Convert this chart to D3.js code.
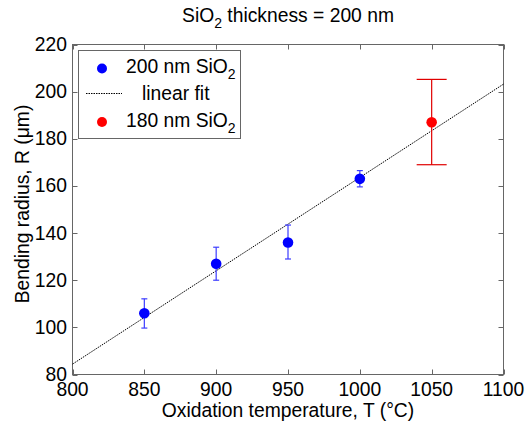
<!DOCTYPE html>
<html>
<head>
<meta charset="utf-8">
<script src="https://cdn.jsdelivr.net/npm/d3@7"></script>
<style>
  html, body { margin: 0; padding: 0; background: #fff; }
  svg { display: block; font-family: "Liberation Sans", Arial, Helvetica, sans-serif; }
</style>
</head>
<body>
<svg id="chart" width="525" height="423"></svg>
<script>
// Oxidation temperature (°C) vs bending radius (µm)
const temps200 = [850, 900, 950, 1000];
const radius200 = [106, 127, 136, 163];
const errLow200 = [99.7, 120, 129, 159.6];
const errHigh200 = [112.1, 134, 143.4, 166.5];

const temps180 = [1050];
const radius180 = [187];
const errLow180 = [169];
const errHigh180 = [205.2];

// Linear fit end points
const fitT = [800, 1100];
const fitR = [84.4, 203.2];

const xTicks = [800, 850, 900, 950, 1000, 1050, 1100];
const yTicks = [80, 100, 120, 140, 160, 180, 200, 220];

const svg = d3.select("#chart");
const plotL = 72.5, plotR = 503.5, plotT = 44.5, plotB = 374.5;
const x = d3.scaleLinear().domain([800, 1100]).range([plotL, plotR]);
const y = d3.scaleLinear().domain([80, 220]).range([plotB, plotT]);
const fs = 19.3;
const subFs = 14;
const axisColor = "#666";

// Frame
svg.append("rect")
  .attr("x", plotL).attr("y", plotT)
  .attr("width", plotR - plotL).attr("height", plotB - plotT)
  .attr("fill", "#fff").attr("stroke", axisColor).attr("stroke-width", 1);

// Inward ticks on all four sides
const tickLen = 5;
const tg = svg.append("g").attr("stroke", axisColor).attr("stroke-width", 1);
xTicks.forEach(t => {
  const px = Math.round(x(t)) + 0.5;
  tg.append("line").attr("x1", px).attr("x2", px).attr("y1", plotB).attr("y2", plotB - tickLen);
  tg.append("line").attr("x1", px).attr("x2", px).attr("y1", plotT).attr("y2", plotT + tickLen);
});
yTicks.forEach(t => {
  const py = Math.round(y(t)) + 0.5;
  tg.append("line").attr("y1", py).attr("y2", py).attr("x1", plotL).attr("x2", plotL + tickLen);
  tg.append("line").attr("y1", py).attr("y2", py).attr("x1", plotR).attr("x2", plotR - tickLen);
});

// Tick labels
svg.append("g").selectAll("text").data(xTicks).join("text")
  .attr("x", d => x(d)).attr("y", 396)
  .attr("text-anchor", "middle").attr("font-size", fs).attr("fill", "#000")
  .text(d => d);
svg.append("g").selectAll("text").data(yTicks).join("text")
  .attr("x", 67).attr("y", d => y(d) + 6.5)
  .attr("text-anchor", "end").attr("font-size", fs).attr("fill", "#000")
  .text(d => d);

// Axis titles
svg.append("text")
  .attr("x", (plotL + plotR) / 2).attr("y", 417)
  .attr("text-anchor", "middle").attr("font-size", fs)
  .text("Oxidation temperature, T (°C)");
svg.append("text")
  .attr("transform", `translate(29, 204) rotate(-90)`)
  .attr("text-anchor", "middle").attr("font-size", fs)
  .text("Bending radius, R (\u03bcm)");

// Title with subscript
const title = svg.append("text")
  .attr("x", (plotL + plotR) / 2).attr("y", 22)
  .attr("text-anchor", "middle").attr("font-size", fs);
title.append("tspan").text("SiO");
title.append("tspan").attr("font-size", subFs).attr("dy", 6).text("2");
title.append("tspan").attr("dy", -6).text(" thickness = 200 nm");

// Linear fit
const line = d3.line().x(d => x(d[0])).y(d => y(d[1]));
svg.append("path")
  .datum(d3.zip(fitT, fitR))
  .attr("d", line)
  .attr("fill", "none").attr("stroke", "#000").attr("stroke-width", 1)
  .attr("stroke-dasharray", "1.5,1");

// Error bars
function errorBars(ts, lo, hi, color, capHalf) {
  const g = svg.append("g").attr("stroke", color).attr("stroke-width", 1.2).attr("fill", "none");
  ts.forEach((t, i) => {
    const cx = x(t);
    g.append("line").attr("x1", cx).attr("x2", cx).attr("y1", y(lo[i])).attr("y2", y(hi[i]));
    g.append("line").attr("x1", cx - capHalf).attr("x2", cx + capHalf).attr("y1", y(lo[i])).attr("y2", y(lo[i]));
    g.append("line").attr("x1", cx - capHalf).attr("x2", cx + capHalf).attr("y1", y(hi[i])).attr("y2", y(hi[i]));
  });
}
errorBars(temps200, errLow200, errHigh200, "#3c3cff", 3);
errorBars(temps180, errLow180, errHigh180, "#e00000", 15);

// Markers
svg.append("g").selectAll("circle").data(d3.zip(temps200, radius200)).join("circle")
  .attr("cx", d => x(d[0])).attr("cy", d => y(d[1])).attr("r", 5.3).attr("fill", "#0000ff");
svg.append("g").selectAll("circle").data(d3.zip(temps180, radius180)).join("circle")
  .attr("cx", d => x(d[0])).attr("cy", d => y(d[1])).attr("r", 5.3).attr("fill", "#ff0000");

// Legend
const lg = svg.append("g");
lg.append("rect").attr("x", 78.5).attr("y", 50.5).attr("width", 162).attr("height", 88)
  .attr("fill", "#fff").attr("stroke", axisColor).attr("stroke-width", 1);
lg.append("circle").attr("cx", 102).attr("cy", 68.5).attr("r", 5).attr("fill", "#0000ff");
lg.append("circle").attr("cx", 102).attr("cy", 122).attr("r", 5).attr("fill", "#ff0000");
lg.append("line").attr("x1", 86).attr("x2", 122).attr("y1", 93.5).attr("y2", 93.5)
  .attr("stroke", "#000").attr("stroke-width", 1).attr("stroke-dasharray", "1.5,1");
function subLabel(tx, ty, main) {
  const t = lg.append("text").attr("x", tx).attr("y", ty).attr("font-size", fs);
  t.append("tspan").text(main);
  t.append("tspan").attr("font-size", subFs).attr("dy", 6).text("2");
}
subLabel(126, 72.5, "200 nm SiO");
lg.append("text").attr("x", 142).attr("y", 100).attr("font-size", fs).text("linear fit");
subLabel(126, 126.5, "180 nm SiO");
</script>
</body>
</html>
